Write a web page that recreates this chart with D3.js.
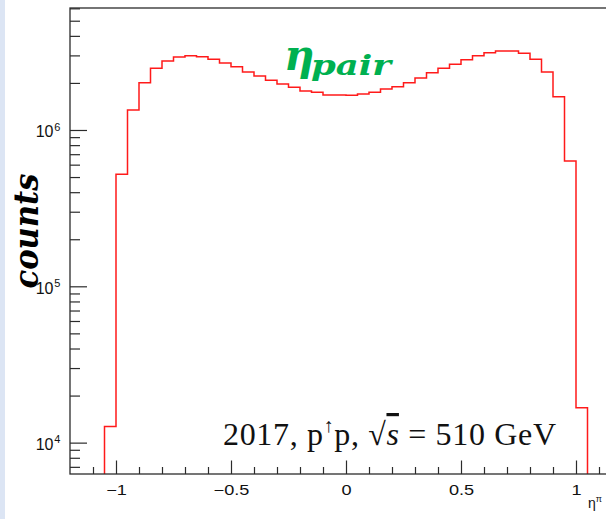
<!DOCTYPE html>
<html>
<head>
<meta charset="utf-8">
<script src="https://cdn.jsdelivr.net/npm/d3@7"></script>
<style>
  body { margin: 0; background: #fff; }
  svg { display: block; }
</style>
</head>
<body>
<svg id="chart" width="606" height="519"></svg>
<script>
// histogram bins (eta of the pair), width 0.05
const binEdges = [
  -1.05, -1.0, -0.95, -0.9, -0.85, -0.8, -0.75, -0.7, -0.65, -0.6, -0.55,
  -0.5, -0.45, -0.4, -0.35, -0.3, -0.25, -0.2, -0.15, -0.1, -0.05, 0,
  0.05, 0.1, 0.15, 0.2, 0.25, 0.3, 0.35, 0.4, 0.45, 0.5, 0.55,
  0.6, 0.65, 0.7, 0.75, 0.8, 0.85, 0.9, 0.95, 1.0, 1.05
];
const counts = [
  1.27e4, 5.21e5, 1.343e6, 2.008e6, 2.48e6, 2.762e6, 2.931e6, 2.989e6, 2.944e6, 2.831e6, 2.683e6,
  2.542e6, 2.35e6, 2.215e6, 2.078e6, 1.969e6, 1.875e6, 1.776e6, 1.741e6, 1.674e6, 1.674e6,
  1.666e6, 1.70e6, 1.741e6, 1.829e6, 1.893e6, 2.008e6, 2.151e6, 2.326e6, 2.48e6, 2.63e6,
  2.818e6, 2.989e6, 3.123e6, 3.201e6, 3.201e6, 3.094e6, 2.831e6, 2.35e6, 1.634e6, 6.335e5, 1.67e4
];

const xMajorTicks = [-1, -0.5, 0, 0.5, 1];
const xTickLabels = ['\u22121', '\u22120.5', '0', '0.5', '1'];
const xMinorTicks = [-1.1, -0.9, -0.8, -0.7, -0.6, -0.4, -0.3, -0.2, -0.1,
  0.1, 0.2, 0.3, 0.4, 0.6, 0.7, 0.8, 0.9, 1.1];
const yDecades = [4, 5, 6];
const yMinorMult = [2, 3, 4, 5, 6, 7, 8, 9];

const width = 606, height = 519;
const frame = { left: 70, top: 8, right: 622, bottom: 474 };
const axisColor = '#2b2b2b';

const svg = d3.select('#chart');

// slide edge on the left
svg.append('rect')
  .attr('x', 0).attr('y', 0)
  .attr('width', 5).attr('height', height)
  .attr('fill', '#dce5f4');

const x = d3.scaleLinear()
  .domain([-1.2, 1.2])
  .range([frame.left, frame.right]);

const y = d3.scaleLog()
  .domain([6300, 6.03e6])
  .range([frame.bottom, frame.top]);

// clip for the histogram
svg.append('clipPath').attr('id', 'frameClip')
  .append('rect')
  .attr('x', frame.left).attr('y', frame.top)
  .attr('width', frame.right - frame.left)
  .attr('height', frame.bottom - frame.top);

// step outline of the histogram
const pts = [[binEdges[0], y.domain()[0]]];
counts.forEach((c, i) => {
  pts.push([binEdges[i], c]);
  pts.push([binEdges[i + 1], c]);
});
pts.push([binEdges[binEdges.length - 1], y.domain()[0]]);

const line = d3.line()
  .x(d => x(d[0]))
  .y(d => y(d[1]));

svg.append('path')
  .datum(pts)
  .attr('clip-path', 'url(#frameClip)')
  .attr('fill', 'none')
  .attr('stroke', '#ff1a1a')
  .attr('stroke-width', 1.5)
  .attr('d', line);

// x axis, ticks pointing inwards
const xMinorAxis = d3.axisBottom(x).tickValues(xMinorTicks).tickSize(-7).tickFormat('');
const xMajorAxis = d3.axisBottom(x).tickValues(xMajorTicks).tickSize(-13.5)
  .tickFormat((d, i) => xTickLabels[i]);

svg.append('g')
  .attr('transform', `translate(0,${frame.bottom})`)
  .call(xMinorAxis)
  .call(g => g.select('.domain').remove());

const gx = svg.append('g')
  .attr('transform', `translate(0,${frame.bottom})`)
  .call(xMajorAxis)
  .call(g => g.select('.domain').remove());

gx.selectAll('.tick text')
  .attr('y', 21)
  .attr('dy', 0)
  .attr('transform', 'scale(1.25,1)')
  .attr('fill', '#111')
  .style('font-family', '"Liberation Sans", Arial, sans-serif')
  .style('font-size', '14.5px');

// y axis, ticks pointing inwards
const yMinorTicks = yDecades.flatMap(p => yMinorMult.map(m => m * Math.pow(10, p - 1)))
  .concat(yMinorMult.map(m => m * 1e6))
  .filter(v => v >= y.domain()[0] && v <= y.domain()[1]);
const yMajorTicks = yDecades.map(p => Math.pow(10, p));

svg.append('g')
  .attr('transform', `translate(${frame.left},0)`)
  .call(d3.axisLeft(y).tickValues(yMinorTicks).tickSize(-10).tickFormat(''))
  .call(g => g.select('.domain').remove());

svg.append('g')
  .attr('transform', `translate(${frame.left},0)`)
  .call(d3.axisLeft(y).tickValues(yMajorTicks).tickSize(-17).tickFormat(''))
  .call(g => g.select('.domain').remove());

svg.selectAll('.tick line')
  .attr('stroke', axisColor)
  .attr('stroke-width', 1.2);

// 10^n labels
const yLab = svg.append('g')
  .style('font-family', '"Liberation Sans", Arial, sans-serif')
  .attr('fill', '#111');

yDecades.forEach(p => {
  yLab.append('text')
    .attr('x', 53.5)
    .attr('y', y(Math.pow(10, p)) + 7.3)
    .attr('text-anchor', 'end')
    .style('font-size', '16px')
    .text('10');
  yLab.append('text')
    .attr('x', 54.3)
    .attr('y', y(Math.pow(10, p)) + 0.7)
    .style('font-size', '11px')
    .text(p);
});

// frame
svg.append('rect')
  .attr('x', frame.left).attr('y', frame.top)
  .attr('width', frame.right - frame.left)
  .attr('height', frame.bottom - frame.top)
  .attr('fill', 'none')
  .attr('stroke', axisColor)
  .attr('stroke-width', 1.3);

// x axis title (only the part visible in the picture)
const xt = svg.append('text')
  .attr('x', 588)
  .attr('y', 508)
  .attr('fill', '#111')
  .style('font-family', '"Liberation Sans", Arial, sans-serif')
  .style('font-size', '14px');
xt.append('tspan').text('\u03b7');
xt.append('tspan').attr('dy', -6).style('font-size', '9px').text('\u03c0');

// y title
svg.append('text')
  .attr('transform', 'translate(38,231) rotate(-90)')
  .attr('text-anchor', 'middle')
  .attr('textLength', 115)
  .attr('lengthAdjust', 'spacingAndGlyphs')
  .attr('fill', '#000')
  .style('font-family', '"DejaVu Serif", serif')
  .style('font-weight', 'bold')
  .style('font-style', 'italic')
  .style('font-size', '33px')
  .text('counts');

// eta_pair label
const eta = svg.append('text')
  .attr('x', 284)
  .attr('y', 70)
  .attr('fill', '#00b050')
  .style('font-family', '"DejaVu Serif", serif')
  .style('font-weight', 'bold')
  .style('font-style', 'italic');
eta.append('tspan').style('font-size', '42px').text('\u03b7');
eta.append('tspan')
  .attr('x', 311).attr('y', 75)
  .attr('textLength', 80)
  .attr('lengthAdjust', 'spacingAndGlyphs')
  .style('font-size', '27px')
  .text('pair');

// run info
const info = svg.append('text')
  .attr('x', 223)
  .attr('y', 445)
  .attr('textLength', 333)
  .attr('lengthAdjust', 'spacing')
  .attr('fill', '#111')
  .style('font-family', '"Liberation Serif", "Times New Roman", serif')
  .style('font-size', '32px');
info.append('tspan').text('2017, p');
info.append('tspan').attr('dy', -13).style('font-size', '20px').text('\u2191');
info.append('tspan').attr('dy', 13).text('p, \u221a');
info.append('tspan')
  .style('font-style', 'italic')
  .style('text-decoration', 'overline')
  .style('text-decoration-thickness', '1.5px')
  .text('s');
info.append('tspan').text(' = 510 GeV');
</script>
</body>
</html>
